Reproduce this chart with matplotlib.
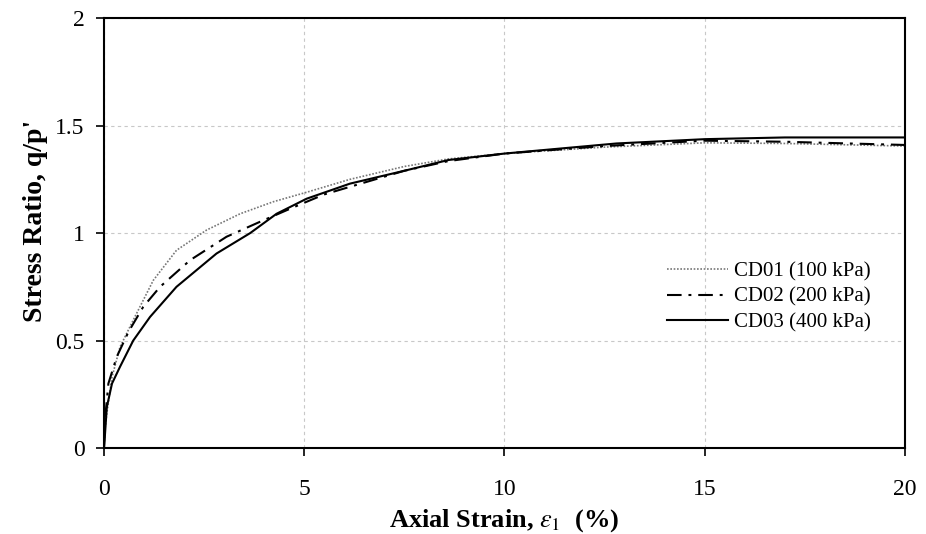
import numpy as np
import matplotlib.pyplot as plt

strain_cd01 = [0, 0.02, 0.07, 0.2, 0.4, 0.73, 1.23, 1.81, 2.56, 3.4, 4.23, 5.06,
               6.14, 7.5, 8.6, 10, 12.5, 15, 17, 20]
ratio_cd01 = [0, 0.08, 0.16, 0.33, 0.47, 0.595, 0.78, 0.92, 1.014, 1.09, 1.146, 1.19,
              1.25, 1.31, 1.345, 1.37, 1.40, 1.42, 1.417, 1.405]

strain_cd02 = [0, 0.02, 0.11, 0.32, 0.61, 0.98, 1.4, 2.15, 3.06, 3.9, 4.73, 5.5,
               6.5, 7.5, 8.6, 10, 12.5, 15, 17, 20]
ratio_cd02 = [0, 0.12, 0.30, 0.425, 0.54, 0.657, 0.75, 0.874, 0.983, 1.053, 1.12, 1.18,
              1.235, 1.29, 1.335, 1.37, 1.405, 1.43, 1.425, 1.41]

strain_cd03 = [0, 0.02, 0.07, 0.2, 0.4, 0.73, 1.15, 1.81, 2.81, 3.65, 4.31, 5.06,
               6.14, 7.5, 8.6, 10, 12.8, 15, 17, 20]
ratio_cd03 = [0, 0.05, 0.19, 0.30, 0.378, 0.50, 0.61, 0.75, 0.905, 1.0, 1.09, 1.16,
              1.23, 1.29, 1.34, 1.37, 1.417, 1.437, 1.445, 1.445]

labels = ['CD01 (100 kPa)', 'CD02 (200 kPa)', 'CD03 (400 kPa)']
x_ticks = [0, 5, 10, 15, 20]
y_ticks = [0, 0.5, 1, 1.5, 2]
y_tick_labels = ['0', '0.5', '1', '1.5', '2']

plt.rcParams['font.family'] = ['Liberation Serif', 'DejaVu Serif']
plt.rcParams['mathtext.fontset'] = 'stix'

fig = plt.figure(figsize=(9.26, 5.34), dpi=100)
ax = fig.add_axes([0.1123, 0.161, 0.865, 0.805])

ax.plot(strain_cd01, ratio_cd01, linestyle=(0, (1, 1)), color='#777777', linewidth=1.2,
        label=labels[0])
ax.plot(strain_cd02, ratio_cd02, linestyle=(0, (7, 3.3, 1.4, 3.3)), color='black',
        linewidth=1.5, label=labels[1])
ax.plot(strain_cd03, ratio_cd03, linestyle='-', color='black', linewidth=1.5,
        label=labels[2])

ax.set_xlim(0, 20)
ax.set_ylim(0, 2)
ax.set_xticks(x_ticks)
ax.set_yticks(y_ticks)
ax.set_yticklabels(y_tick_labels)
ax.tick_params(labelsize=17, direction='out', length=6, width=1.2)
ax.tick_params(axis='x', pad=16)
ax.tick_params(axis='y', pad=8)
ax.grid(True, linestyle=(0, (3, 3)), color='#c8c8c8', linewidth=0.8)
for s in ax.spines.values():
    s.set_linewidth(1.5)

ax.set_xlabel(r'Axial Strain, $\varepsilon_1$  (%)', fontsize=19, fontweight='bold')
ax.set_ylabel("Stress Ratio, q/p'", fontsize=20, fontweight='bold')
ax.xaxis.set_label_coords(0.5, -0.138)
ax.yaxis.set_label_coords(-0.07, 0.528)

ax.legend(loc='center left', bbox_to_anchor=(0.703, 0.351), frameon=False, fontsize=15,
          handlelength=2.9, handletextpad=0.33, labelspacing=0.3,
          borderpad=0, borderaxespad=0)

fig.savefig('out.png', dpi=100)
